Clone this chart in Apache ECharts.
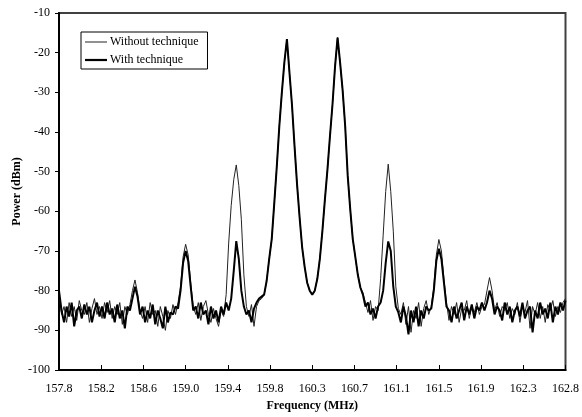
<!DOCTYPE html>
<html>
<head>
<meta charset="utf-8">
<script src="https://cdn.jsdelivr.net/npm/echarts@6/dist/echarts.min.js"></script>
<style>
  html, body { margin: 0; padding: 0; background: #fff; }
  #spectrum { width: 582px; height: 417px; }
</style>
</head>
<body>
<div id="spectrum"></div>
<script>
// frequency points (MHz)
var freq = [
    157.8, 157.825, 157.85, 157.875, 157.9, 157.925, 157.95, 157.975,
    158, 158.025, 158.05, 158.075, 158.1, 158.125, 158.15, 158.175, 158.2, 158.225, 158.25, 158.275,
    158.3, 158.325, 158.35, 158.375, 158.4, 158.425, 158.45, 158.475, 158.5, 158.525, 158.55, 158.575,
    158.6, 158.625, 158.65, 158.675, 158.7, 158.725, 158.75, 158.775, 158.8, 158.825, 158.85, 158.875,
    158.9, 158.925, 158.95, 158.975,
    159, 159.025, 159.05, 159.075, 159.1, 159.125, 159.15, 159.175, 159.2, 159.225, 159.25, 159.275,
    159.3, 159.325, 159.35, 159.375, 159.4, 159.425, 159.45, 159.475, 159.5, 159.525, 159.55, 159.575,
    159.6, 159.625, 159.65, 159.675, 159.7, 159.725, 159.75, 159.775, 159.8, 159.825, 159.85, 159.875,
    159.9, 159.925, 159.95, 159.975,
    160, 160.025, 160.05, 160.075, 160.1, 160.125, 160.15, 160.175, 160.2, 160.225, 160.25, 160.275,
    160.3, 160.325, 160.35, 160.375, 160.4, 160.425, 160.45, 160.475, 160.5, 160.525, 160.55, 160.575,
    160.6, 160.625, 160.65, 160.675, 160.7, 160.725, 160.75, 160.775, 160.8, 160.825, 160.85, 160.875,
    160.9, 160.925, 160.95, 160.975,
    161, 161.025, 161.05, 161.075, 161.1, 161.125, 161.15, 161.175, 161.2, 161.225, 161.25, 161.275,
    161.3, 161.325, 161.35, 161.375, 161.4, 161.425, 161.45, 161.475, 161.5, 161.525, 161.55, 161.575,
    161.6, 161.625, 161.65, 161.675, 161.7, 161.725, 161.75, 161.775, 161.8, 161.825, 161.85, 161.875,
    161.9, 161.925, 161.95, 161.975,
    162, 162.025, 162.05, 162.075, 162.1, 162.125, 162.15, 162.175, 162.2, 162.225, 162.25, 162.275,
    162.3, 162.325, 162.35, 162.375, 162.4, 162.425, 162.45, 162.475, 162.5, 162.525, 162.55, 162.575,
    162.6, 162.625, 162.65, 162.675, 162.7, 162.725, 162.75, 162.775, 162.8
];

// power without technique (dBm)
var withoutTech = [
    -80.5, -86, -84, -88, -83, -86.5, -84, -87.5,
    -82.5, -85, -86, -83, -88, -84.5, -82, -86, -84, -87, -83, -85.5,
    -82.5, -87, -84, -86, -83, -88.5, -84, -86, -83.5, -80, -77.3, -80.5,
    -85, -87, -84, -88, -83, -86, -85, -89, -84, -86.5, -90, -85,
    -87, -83.5, -86, -83,
    -79, -71.5, -68.3, -71, -78, -84, -86, -83, -87.5, -84, -82.5, -86,
    -88, -84.5, -87, -89, -85, -86.5, -81, -68, -58.5, -52, -48.3, -53.5,
    -62, -76, -84, -86.5, -83.5, -89, -84, -82.5, -82, -81, -77.5, -72,
    -67, -58, -48.7, -38.5,
    -30, -22.4, -16.6, -25, -33.2, -43.5, -53.2, -61.5, -69, -74, -78, -80,
    -81, -80, -77, -72, -65, -57, -49.5, -41, -33, -23.5, -16.2, -22.5,
    -29.5, -38.5, -51, -59.5, -67, -71.5, -76, -79.2, -80.5, -83, -85.5, -82.5,
    -87.5, -84, -85, -77,
    -66, -55, -48.1, -55, -65, -79, -84.5, -86, -83, -88.5, -84, -90.5,
    -85, -87, -83, -89, -84.5, -82.5, -86, -84, -79, -71, -67.1, -70,
    -77, -83, -87.5, -84, -86, -83, -88, -84.5, -85, -82.5, -87, -84,
    -85.5, -83, -86, -84,
    -83.5, -80, -76.7, -80, -85, -83, -86.5, -84, -85, -83, -87, -84.5,
    -86, -83, -88, -84, -85.5, -82.5, -89.5, -84, -86, -83, -87, -84,
    -88, -83.5, -85, -82.5, -86.5, -84, -85.5, -83, -82
];

// power with technique (dBm)
var withTech = [
    -80, -85, -88, -84, -86.5, -83, -89, -85,
    -84, -87, -83.5, -86, -84, -88, -85, -83, -86.5, -84, -87, -83,
    -86, -84.5, -88, -83.5, -87, -85, -89.5, -84, -85, -82, -79, -81.5,
    -86, -84, -88, -85, -87, -83.5, -88.5, -85, -87, -89.5, -84, -88,
    -85.5, -86, -84, -84.5,
    -80, -73, -70, -72.5, -79, -85, -84, -87, -83, -86, -85, -88.5,
    -84, -87, -85, -88, -84, -86, -83, -85, -82, -75, -67.5, -72,
    -80, -84, -86, -85, -88, -84.5, -83, -82, -81.5, -81, -77.5, -72,
    -67, -58, -48.7, -38.5,
    -30, -22.4, -16.6, -25, -33.2, -43.5, -53.2, -61.5, -69, -74, -78, -80,
    -81, -80, -77, -72, -65, -57, -49.5, -41, -33, -23.5, -16.2, -22.5,
    -29.5, -38.5, -51, -59.5, -67, -71.5, -76, -79.2, -81, -84, -83, -86,
    -84.5, -87, -84, -83,
    -80, -73, -67.6, -70, -79, -84, -85.5, -88, -84, -86.5, -91, -85,
    -88, -84, -89, -85, -87, -84, -85, -84.5, -80, -72.5, -69.4, -72,
    -78, -84, -85, -88, -84, -87, -85, -83, -87.5, -84, -86, -83.5,
    -87, -84, -85, -83,
    -85, -83, -80, -82, -86, -84, -85, -87.5, -83, -86, -84, -88,
    -85, -84, -86.5, -83, -87, -85, -84, -90.5, -85, -87, -83, -86,
    -84.5, -87, -83, -88, -84, -86, -83, -85, -82.5
];

var tickLabels = ['157.8', '158.2', '158.6', '159.0', '159.4', '159.8', '160.3',
    '160.7', '161.1', '161.5', '161.9', '162.3', '162.8'];

var xMin = 157.8, xMax = 162.8;
var tickPos = tickLabels.map(function (t, k) {
    return xMin + k * (xMax - xMin) / (tickLabels.length - 1);
});

function pairs(ys) {
    return freq.map(function (f, i) { return [f, ys[i]]; });
}

var font = 'Liberation Serif';
var myChart = echarts.init(document.getElementById('spectrum'));

var option = {
    animation: false,
    textStyle: { fontFamily: font, color: '#000' },
    grid: {
        left: 59, right: 16, top: 13, bottom: 45,
        show: true,
        borderColor: '#404040',
        borderWidth: 2
    },
    legend: {
        left: 81, top: 32,
        orient: 'vertical',
        itemWidth: 22, itemHeight: 12, itemGap: 6,
        padding: [4, 9, 3, 4],
        borderColor: '#000', borderWidth: 1,
        backgroundColor: '#fff',
        symbolKeepAspect: true,
        textStyle: { fontFamily: font, fontSize: 12, color: '#000', padding: [0, 0, 0, -2] },
        data: [
            { name: 'Without technique', icon: 'path://M0,0H22V1H0Z', itemStyle: { color: '#222' } },
            { name: 'With technique', icon: 'path://M0,0H22V2.2H0Z', itemStyle: { color: '#000' } }
        ]
    },
    xAxis: {
        type: 'value',
        min: xMin, max: xMax,
        name: 'Frequency (MHz)',
        nameLocation: 'middle',
        nameGap: 30,
        nameMoveOverlap: false,
        nameTextStyle: { fontFamily: font, fontSize: 12, fontWeight: 'bold', color: '#000' },
        axisLine: { show: true, lineStyle: { color: '#000', width: 2 } },
        axisTick: { show: true, inside: true, length: 5, customValues: tickPos, lineStyle: { color: '#000' } },
        axisLabel: {
            customValues: tickPos,
            margin: 13,
            fontFamily: font, fontSize: 12, color: '#000',
            formatter: function (v) {
                return tickLabels[Math.round((v - xMin) * (tickLabels.length - 1) / (xMax - xMin))];
            }
        },
        splitLine: { show: false }
    },
    yAxis: {
        type: 'value',
        min: -100, max: -10, interval: 10,
        name: 'Power (dBm)',
        nameLocation: 'middle',
        nameGap: 36,
        nameMoveOverlap: false,
        nameTextStyle: { fontFamily: font, fontSize: 12, fontWeight: 'bold', color: '#000' },
        axisLine: { show: true, lineStyle: { color: '#000', width: 2 } },
        axisTick: { show: true, inside: false, length: 4, lineStyle: { color: '#000' } },
        axisLabel: { margin: 9, fontFamily: font, fontSize: 12, color: '#000' },
        splitLine: { show: false }
    },
    series: [
        {
            name: 'Without technique',
            type: 'line',
            symbol: 'none',
            data: pairs(withoutTech),
            lineStyle: { color: '#222', width: 1 },
            itemStyle: { color: '#222' }
        },
        {
            name: 'With technique',
            type: 'line',
            symbol: 'none',
            data: pairs(withTech),
            lineStyle: { color: '#000', width: 2 },
            itemStyle: { color: '#000' }
        }
    ]
};
myChart.setOption(option);
window.addEventListener('resize', function () {
    myChart.resize();
});
</script>
</body>
</html>
